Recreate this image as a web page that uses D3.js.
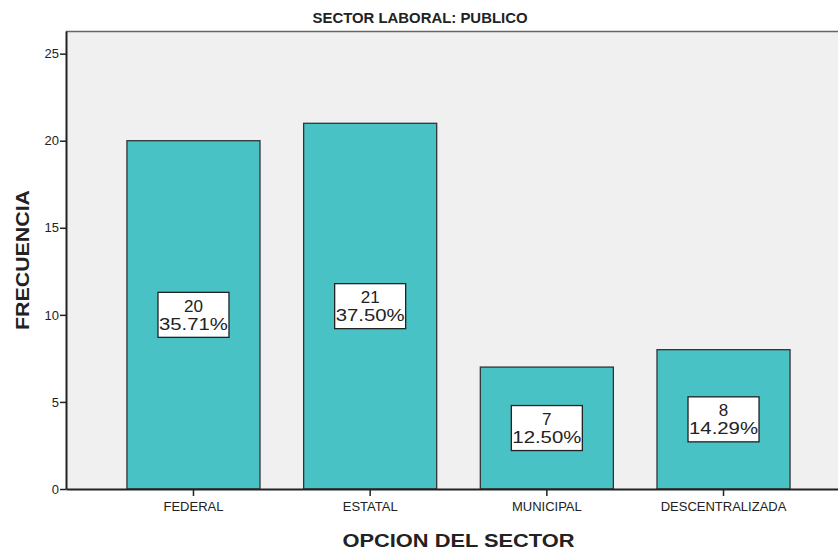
<!DOCTYPE html>
<html>
<head>
<meta charset="utf-8">
<script src="https://cdn.jsdelivr.net/npm/d3@7"></script>
<style>
  body { margin: 0; background: #fff; }
  svg { display: block; font-family: "Liberation Sans", Arial, sans-serif; }
</style>
</head>
<body>
<div id="chart"></div>
<script>
const categories = ['FEDERAL', 'ESTATAL', 'MUNICIPAL', 'DESCENTRALIZADA'];
const counts = [20, 21, 7, 8];
const percents = ['35.71%', '37.50%', '12.50%', '14.29%'];
const yTicks = [0, 5, 10, 15, 20, 25];

const width = 838, height = 550;
const margin = { left: 66, right: -13, top: 31, bottom: 61 };
const innerW = width - margin.left - margin.right;
const innerH = height - margin.top - margin.bottom;

const svg = d3.select('#chart').append('svg')
   .attr('width', width)
   .attr('height', height);

const g = svg.append('g')
   .attr('transform', `translate(${margin.left}, ${margin.top})`);

const x = d3.scaleBand()
   .domain(categories)
   .range([0, innerW])
   .paddingInner(0.247)
   .paddingOuter(0.345);

const y = d3.scaleLinear()
   .domain([0, 26.3])
   .range([innerH, 0]);

// plot background
g.append('rect')
   .attr('width', innerW)
   .attr('height', innerH)
   .attr('fill', '#f0f0f0');

g.append('line')
   .attr('x1', 0).attr('x2', innerW)
   .attr('y1', 0.5).attr('y2', 0.5)
   .attr('stroke', '#666')
   .attr('stroke-width', 1.5);

// bars
g.selectAll('.bar')
   .data(categories)
   .enter()
   .append('rect')
      .attr('class', 'bar')
      .attr('x', d => x(d))
      .attr('y', (d, i) => y(counts[i]))
      .attr('width', x.bandwidth())
      .attr('height', (d, i) => innerH - y(counts[i]))
      .attr('fill', '#48c2c5')
      .attr('stroke', '#333')
      .attr('stroke-width', 1.3);

// value labels
const boxW = 71, boxH = 45;
const lab = g.selectAll('.lab')
   .data(categories)
   .enter()
   .append('g')
      .attr('class', 'lab')
      .attr('transform', (d, i) => `translate(${x(d) + x.bandwidth() / 2}, ${(y(counts[i]) + innerH) / 2})`);

lab.append('rect')
   .attr('x', -boxW / 2)
   .attr('y', -boxH / 2)
   .attr('width', boxW)
   .attr('height', boxH)
   .attr('fill', '#fff')
   .attr('stroke', '#222')
   .attr('stroke-width', 1.3);

lab.append('text')
   .attr('text-anchor', 'middle')
   .attr('y', -3)
   .attr('font-size', '17px')
   .attr('fill', '#222')
   .text((d, i) => counts[i]);

lab.append('text')
   .attr('text-anchor', 'middle')
   .attr('y', 15)
   .attr('font-size', '17px')
   .attr('fill', '#222')
   .attr('textLength', 69)
   .attr('lengthAdjust', 'spacingAndGlyphs')
   .text((d, i) => percents[i]);

// axes
const yAxis = g.append('g')
   .call(d3.axisLeft(y).tickValues(yTicks).tickSize(6).tickSizeOuter(0));

const xAxis = g.append('g')
   .attr('transform', `translate(0, ${innerH})`)
   .call(d3.axisBottom(x).tickSize(7).tickSizeOuter(0));

[yAxis, xAxis].forEach(a => {
   a.select('.domain').attr('stroke', '#222').attr('stroke-width', 2);
   a.selectAll('.tick line').attr('stroke', '#222').attr('stroke-width', 1.5);
   a.selectAll('.tick text')
      .attr('font-family', '"Liberation Sans", Arial, sans-serif')
      .attr('font-size', '13px')
      .attr('fill', '#222');
});
yAxis.selectAll('.tick text').attr('x', -7);
xAxis.selectAll('.tick text').attr('y', 13);

// titles
svg.append('text')
   .attr('x', 420)
   .attr('y', 23)
   .attr('text-anchor', 'middle')
   .attr('font-size', '14px')
   .attr('font-weight', 'bold')
   .attr('fill', '#222')
   .attr('textLength', 215)
   .attr('lengthAdjust', 'spacingAndGlyphs')
   .text('SECTOR LABORAL: PUBLICO');

svg.append('text')
   .attr('x', margin.left + innerW / 2)
   .attr('y', 547)
   .attr('text-anchor', 'middle')
   .attr('font-size', '19px')
   .attr('font-weight', 'bold')
   .attr('fill', '#222')
   .attr('textLength', 232)
   .attr('lengthAdjust', 'spacingAndGlyphs')
   .text('OPCION DEL SECTOR');

svg.append('text')
   .attr('transform', `translate(29, 260) rotate(-90)`)
   .attr('text-anchor', 'middle')
   .attr('font-size', '19px')
   .attr('font-weight', 'bold')
   .attr('fill', '#222')
   .attr('textLength', 140)
   .attr('lengthAdjust', 'spacingAndGlyphs')
   .text('FRECUENCIA');
</script>
</body>
</html>
